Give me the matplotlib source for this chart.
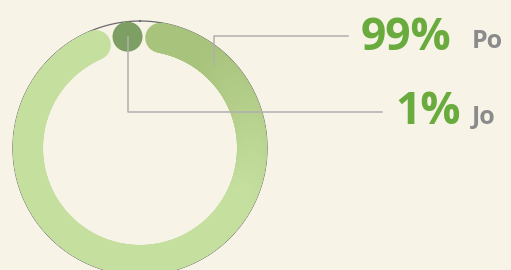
import matplotlib
matplotlib.use("Agg")
import matplotlib.pyplot as plt
import matplotlib.patches as patches
from matplotlib.collections import LineCollection
from matplotlib.colors import to_rgb
import numpy as np

# data
names = ["Po", "Jo"]
shares = [99, 1]
pct_labels = ["99%", "1%"]

BG = "#f7f3e7"
LIGHT = "#c5df9f"
DARK = "#a8c37c"
DOT = "#7e9f63"
GREEN_TXT = "#69ab3c"
GRAY_TXT = "#8b8b8b"
LINE_GRAY = "#b0b0b0"

CX, CY = 140, 148
R_MID = 112
RING_W = 30
R_OUT = 127
GAP_HALF = 15  # degrees
START = -4.6   # degrees from top, clockwise

fig = plt.figure(figsize=(5.11, 2.70), dpi=100, facecolor=BG)
ax = fig.add_axes([0, 0, 1, 1])
ax.set_xlim(0, 511)
ax.set_ylim(270, 0)
ax.set_facecolor(BG)
ax.axis("off")

lw = RING_W * 72 / 100


def pt(deg, r=R_MID):
    a = np.radians(deg)
    return CX + r * np.sin(a), CY - r * np.cos(a)


# outline circle
t = np.linspace(0, 360, 721)
ox, oy = pt(t, R_OUT)
ax.plot(ox, oy, color="#6b6b6b", lw=0.9, zorder=1)

# slices
total = sum(shares)
a0 = START
mids = []
for i, s in enumerate(shares):
    sweep = s / total * 360
    a1 = a0 + sweep
    mids.append((a0 + a1) / 2)
    if sweep > 2 * GAP_HALF:
        angs = np.linspace(a0 + GAP_HALF, a1 - GAP_HALF, 400)
        xs, ys = pt(angs)
        segs = [[(xs[k], ys[k]), (xs[k + 1], ys[k + 1])] for k in range(len(xs) - 1)]
        # shading: darker near the start, lighter further round
        f = np.clip((angs[:-1] - 40) / 80, 0, 1)
        c0, c1 = np.array(to_rgb(DARK)), np.array(to_rgb(LIGHT))
        cols = [tuple(c0 + (c1 - c0) * v) for v in f]
        lc = LineCollection(segs, colors=cols, linewidths=lw, capstyle="round", zorder=2)
        ax.add_collection(lc)
    else:
        # too small for an arc: draw it as a dot
        x, y = pt((a0 + a1) / 2)
        ax.add_patch(patches.Circle((x, y), RING_W / 2, color=DOT, lw=0, zorder=3))
    a0 = a1

# leader lines and labels
ax.plot([214, 214, 348], [65, 36, 36], color=LINE_GRAY, lw=1.1, zorder=4)
dx, dy = pt(mids[1])
ax.plot([dx, dx, 382], [dy, 112, 112], color=LINE_GRAY, lw=1.1, zorder=4)

ax.text(361, 39, pct_labels[0], fontsize=32, fontweight="bold", family="Open Sans",
        color=GREEN_TXT, ha="left", va="center")
ax.text(472, 41, names[0], fontsize=18, fontweight="bold", family="Open Sans",
        color=GRAY_TXT, ha="left", va="center")
ax.text(395, 113, pct_labels[1], fontsize=32, fontweight="bold", family="Open Sans",
        color=GREEN_TXT, ha="left", va="center")
ax.text(472, 117, names[1], fontsize=18, fontweight="bold", family="Open Sans",
        color=GRAY_TXT, ha="left", va="center")

fig.savefig("out.png", dpi=100, facecolor=BG)
